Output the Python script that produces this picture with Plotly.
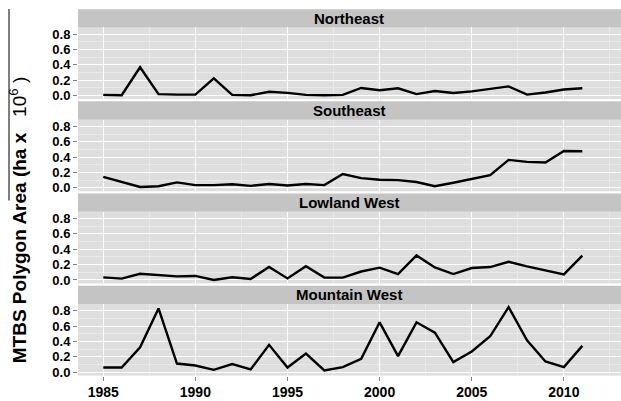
import plotly.graph_objects as go
from plotly.subplots import make_subplots

# Annual MTBS burned polygon area (million ha) by region
years = list(range(1985, 2012))
regions = ["Northeast", "Southeast", "Lowland West", "Mountain West"]

northeast = [0.01, 0.005, 0.37, 0.02, 0.013, 0.013, 0.225, 0.01, 0.005, 0.05,
             0.035, 0.01, 0.005, 0.01, 0.10, 0.07, 0.095, 0.02, 0.06, 0.035,
             0.055, 0.085, 0.12, 0.013, 0.04, 0.08, 0.095]
southeast = [0.143, 0.078, 0.01, 0.02, 0.07, 0.035, 0.035, 0.045, 0.025, 0.05,
             0.03, 0.05, 0.035, 0.18, 0.125, 0.105, 0.10, 0.075, 0.02, 0.065,
             0.115, 0.165, 0.363, 0.337, 0.33, 0.48, 0.476]
lowland_west = [0.034, 0.017, 0.08, 0.06, 0.047, 0.052, 0.0, 0.034, 0.013, 0.17,
                0.02, 0.18, 0.03, 0.03, 0.11, 0.16, 0.077, 0.32, 0.163, 0.077,
                0.155, 0.168, 0.237, 0.176, 0.125, 0.073, 0.318]
mountain_west = [0.06, 0.06, 0.324, 0.83, 0.112, 0.086, 0.03, 0.104, 0.035, 0.355,
                 0.06, 0.242, 0.022, 0.065, 0.173, 0.649, 0.208, 0.649, 0.515, 0.13,
                 0.268, 0.467, 0.848, 0.415, 0.138, 0.065, 0.342]
series = [northeast, southeast, lowland_west, mountain_west]

y_ticks = [0.0, 0.2, 0.4, 0.6, 0.8]
y_ticktext = ["0.0", "0.2", "0.4", "0.6", "0.8"]
x_ticks = [1985, 1990, 1995, 2000, 2005, 2010]

W, H = 621, 401
FONT = "Liberation Sans, Arial, Helvetica, sans-serif"
PANEL_BG = "#DEDEDE"
STRIP_BG = "#C4C4C4"
MINOR_GRID = "#E9E9E9"

left_px = 78.0
step = 93.33

fig = make_subplots(rows=4, cols=1, shared_xaxes=True, vertical_spacing=0.02)

shapes = []
annotations = []
for k, (name, vals) in enumerate(zip(regions, series)):
    fig.add_trace(
        go.Scatter(x=years, y=vals, mode="lines",
                   line=dict(color="black", width=2.4),
                   showlegend=False, hoverinfo="x+y"),
        row=k + 1, col=1,
    )
    strip_top = 8.3 + step * k
    strip_bot = 26.8 + step * k
    pan_bot = 99.3 + step * k
    ax = "" if k == 0 else str(k + 1)
    fig.update_layout(**{
        f"yaxis{ax}": dict(
            domain=[1 - pan_bot / H, 1 - strip_bot / H],
            range=[-0.045, 0.888],
            tickvals=y_ticks, ticktext=y_ticktext,
            ticks="outside", ticklen=4, tickwidth=1, tickcolor="#7F7F7F",
            tickfont=dict(family=FONT, size=13, color="black", weight="bold"),
            showgrid=True, gridcolor="white", gridwidth=1.2,
            minor=dict(dtick=0.1, tick0=0, showgrid=True,
                       gridcolor=MINOR_GRID, gridwidth=1),
            zeroline=False, showline=False, fixedrange=True,
        ),
        f"xaxis{ax}": dict(
            domain=[left_px / W, 1.0],
            range=[1983.63, 2013.1],
            tickvals=x_ticks,
            ticktext=[str(v) for v in x_ticks],
            showticklabels=(k == 3),
            ticks="outside" if k == 3 else "",
            ticklen=4, tickwidth=1, tickcolor="#7F7F7F",
            tickfont=dict(family=FONT, size=14, color="black", weight="bold"),
            showgrid=True, gridcolor="white", gridwidth=1.2,
            minor=dict(dtick=2.5, tick0=1985, showgrid=True,
                       gridcolor=MINOR_GRID, gridwidth=1),
            zeroline=False, showline=False, fixedrange=True,
        ),
    })
    # facet strip
    shapes.append(dict(type="rect", xref="paper", yref="paper",
                       x0=left_px / W, x1=1.0,
                       y0=1 - strip_bot / H, y1=1 - strip_top / H,
                       fillcolor=STRIP_BG, line=dict(width=0), layer="below"))
    annotations.append(dict(text=f"<b>{name}</b>", xref="paper", yref="paper",
                            x=(left_px + W) / 2 / W,
                            y=1 - (strip_top + strip_bot) / 2 / H,
                            xanchor="center", yanchor="middle", showarrow=False,
                            font=dict(family=FONT, size=15, color="black")))

# y-axis title
annotations.append(dict(
    text="<b>MTBS Polygon Area (ha x</b>&nbsp;&nbsp;&nbsp;10<sup>6</sup>&nbsp;)",
    xref="paper", yref="paper", x=18 / W, y=1 - 222 / H,
    xanchor="center", yanchor="middle", textangle=-90, showarrow=False,
    font=dict(family=FONT, size=19, color="black")))

# overline stroke beside the axis title
shapes.append(dict(type="line", xref="paper", yref="paper",
                   x0=9 / W, x1=9 / W, y0=1 - 8 / H, y1=1 - 202 / H,
                   line=dict(color="#555555", width=1.5)))

fig.update_layout(
    width=W, height=H,
    margin=dict(l=0, r=0, t=0, b=0),
    paper_bgcolor="white", plot_bgcolor=PANEL_BG,
    shapes=shapes, annotations=annotations,
    font=dict(family=FONT),
)

fig.write_html("out.html")
